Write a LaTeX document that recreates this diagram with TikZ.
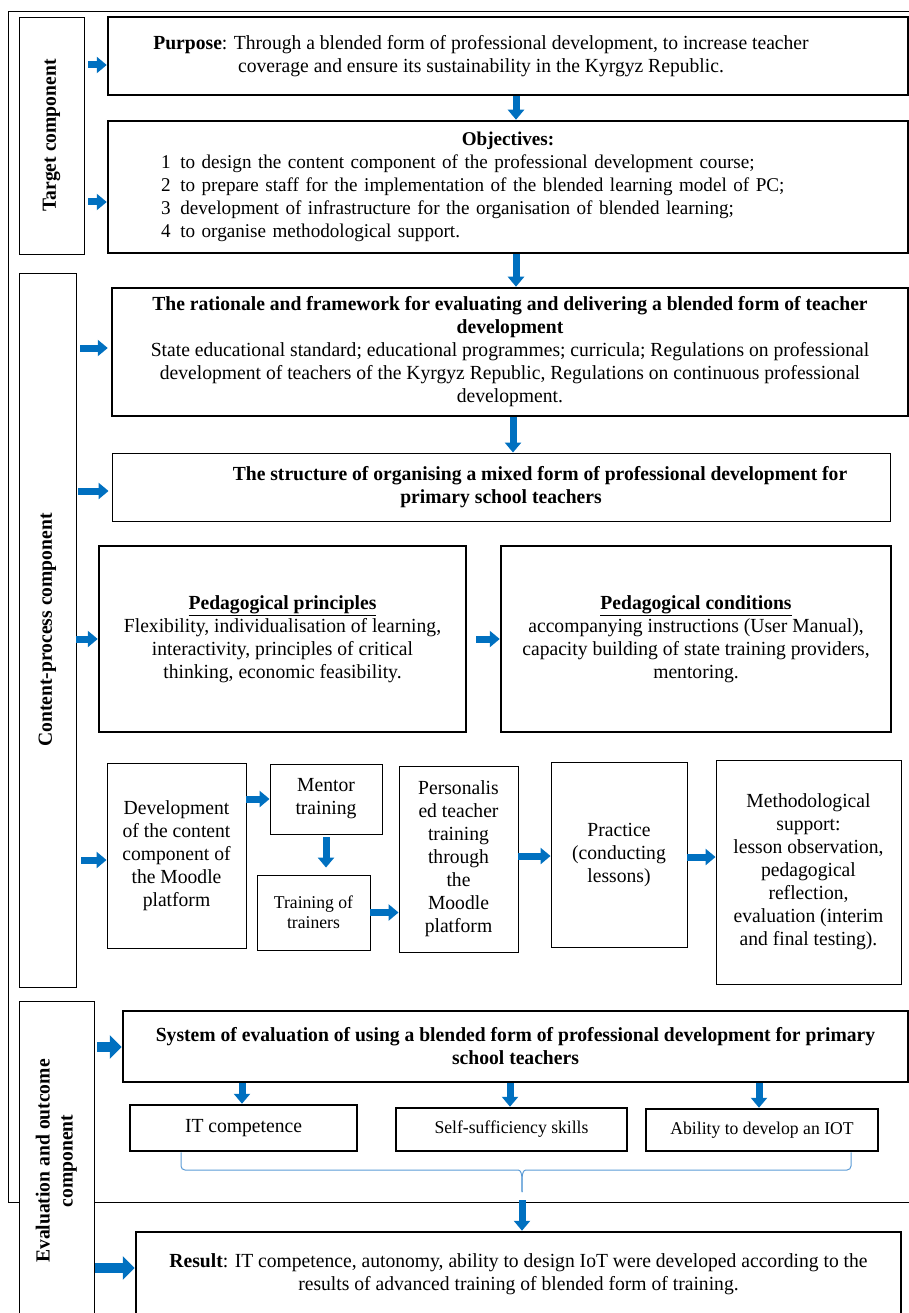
\documentclass[tikz,border=0pt]{standalone}
\usepackage{fontspec}
\setmainfont{Liberation Serif}[FakeStretch=0.98]
\usetikzlibrary{arrows.meta}
\definecolor{arrowblue}{RGB}{0,112,192}
\definecolor{braceblue}{RGB}{91,155,213}
\tikzset{
  bigbox/.style={draw, line width=2.5pt, align=center, inner sep=0pt},
  smallbox/.style={draw, line width=0.9pt, align=center, inner sep=0pt},
  sidebox/.style={draw, line width=0.9pt, fill=white, inner sep=0pt, font=\fontsize{20}{23}\selectfont\bfseries},
  barrow/.style={draw=arrowblue, line width=7pt, -{Triangle[width=16pt,length=10pt]}},
  bigarrow/.style={draw=arrowblue, line width=10pt, -{Triangle[width=23pt,length=12pt]}},
}
\begin{document}
\begin{tikzpicture}[x=1pt,y=-1pt,font=\fontsize{20}{23}\selectfont]
\useasboundingbox (0,0) rectangle (909,1313);
\clip (0,0) rectangle (909,1313);
\draw[line width=1pt] (930,12) -- (8,12) -- (8,1202) -- (930,1202);

\node[sidebox, minimum width=65, minimum height=237] (tgt) at (51.5,135.5) {\rotatebox{90}{Target component}};
\node[sidebox, minimum width=57, minimum height=714] (cnt) at (47.5,630) {\rotatebox{90}{Content-process component}};
\node[sidebox, minimum width=75, minimum height=320] (evl) at (56.5,1161) {\rotatebox{90}{\begin{tabular}{@{}c@{}}Evaluation and outcome\\component\end{tabular}}};

\node[bigbox, minimum width=800, minimum height=78] (purp) at (508,56)
  {\textbf{Purpose}: Through a blended form of professional development, to increase teacher\hspace*{54pt}\\
   coverage and ensure its sustainability in the Kyrgyz Republic.\hspace*{54pt}};
\node[bigbox, minimum width=800, minimum height=132, text width=694, align=left, font=\fontsize{19.5}{23}\selectfont] (obj) at (508,187)
  {{\centering\textbf{Objectives:}\par}
   1\enspace to design the content component of the professional development course;\\
   2\enspace to prepare staff for the implementation of the blended learning model of PC;\\
   3\enspace development of infrastructure for the organisation of blended learning;\\
   4\enspace to organise methodological support.};
\node[bigbox, minimum width=796, minimum height=128] (rat) at (510,352)
  {\textbf{The rationale and framework for evaluating and delivering a blended form of teacher}\\
   \textbf{development}\\
   State educational standard; educational programmes; curricula; Regulations on professional\\
   development of teachers of the Kyrgyz Republic, Regulations on continuous professional\\
   development.};
\node[smallbox, minimum width=778, minimum height=68] (str) at (501,487)
  {\hspace*{78pt}\textbf{The structure of organising a mixed form of professional development for}\\
   \textbf{primary school teachers}};
\node[bigbox, minimum width=367, minimum height=186] (pri) at (282.5,639)
  {\textbf{\underline{Pedagogical principles}}\\ Flexibility, individualisation of learning,\\
   interactivity, principles of critical\\ thinking, economic feasibility.};
\node[bigbox, minimum width=390, minimum height=186] (con) at (696,639)
  {\textbf{\underline{Pedagogical conditions}}\\ accompanying instructions (User Manual),\\
   capacity building of state training providers,\\ mentoring.};

\node[smallbox, minimum width=139, minimum height=185] (dev) at (176.5,855.5)
  {Development\\ of the content\\ component of\\ the Moodle\\ platform};
\node[smallbox, minimum width=112, minimum height=70] (men) at (326,799) {Mentor\\ training};
\node[smallbox, minimum width=113, minimum height=75, font=\fontsize{18}{20}\selectfont] (trn) at (313.5,912.5)
  {Training of\\ trainers};
\node[smallbox, minimum width=119, minimum height=186] (per) at (458.5,859)
  {Personalis\\ ed teacher\\ training\\ through\\ the\\ Moodle\\ platform};
\node[smallbox, minimum width=136, minimum height=185] (pra) at (619,854.5)
  {Practice\\ (conducting\\ lessons)};
\node[smallbox, minimum width=185, minimum height=224] (met) at (808.5,872)
  {Methodological\\ support:\\ lesson observation,\\ pedagogical\\ reflection,\\ evaluation (interim\\ and final testing).};

\node[bigbox, minimum width=785, minimum height=71] (sys) at (515.5,1046.5)
  {\textbf{System of evaluation of using a blended form of professional development for primary}\\
   \textbf{school teachers}};
\node[bigbox, minimum width=227, minimum height=46] (itc) at (243.5,1128) {IT competence};
\node[bigbox, minimum width=231, minimum height=43, font=\fontsize{18}{20}\selectfont] (slf) at (511.5,1129.5) {Self-sufficiency skills};
\node[bigbox, minimum width=232, minimum height=42, font=\fontsize{18}{20}\selectfont] (abl) at (762,1130) {Ability to develop an IOT};
\node[bigbox, minimum width=765, minimum height=85] (res) at (518.5,1274.5)
  {\textbf{Result}: IT competence, autonomy, ability to design IoT were developed according to the\\
   results of advanced training of blended form of training.};

\coordinate (bt) at (522,1192);
\draw[braceblue, line width=1pt, rounded corners=4pt] (itc.south -| 181,0) |- (514,1170) to[out=0,in=90] (bt);
\draw[braceblue, line width=1pt, rounded corners=4pt] (abl.south -| 851,0) |- (530,1170) to[out=180,in=90] (bt);

\draw[barrow] (tgt.east |- 0,65) ++(4,0) -- (purp.west |- 0,65);
\draw[barrow] (tgt.east |- 0,202) ++(4,0) -- (obj.west |- 0,202);
\draw[barrow] (cnt.east |- 0,348) ++(4,0) -- ([xshift=-3pt]rat.west |- 0,348);
\draw[barrow] (cnt.east |- 0,491) ++(2,0) -- ([xshift=-3pt]str.west |- 0,491);
\draw[barrow] (cnt.east |- pri.west) -- (pri.west);
\draw[barrow] (cnt.east |- 0,860) ++(5,0) -- (dev.west |- 0,860);
\draw[bigarrow] (evl.east |- 0,1047) ++(3,0) -- (sys.west |- 0,1047);
\draw[bigarrow] (evl.east |- 0,1268) ++(1,0) -- (res.west |- 0,1268);

\draw[barrow] (purp.south -| 516,0) -- (obj.north -| 516,0);
\draw[barrow] (obj.south -| 516,0) -- (rat.north -| 516,0);
\draw[barrow] (rat.south -| 513,0) -- (str.north -| 513,0);
\draw[barrow] ([xshift=9pt]pri.east) -- (con.west);
\draw[barrow] (dev.east |- men) -- (men.west);
\draw[barrow] ([yshift=-3pt]men.south) -- ([yshift=7pt]trn.north -| men.south);
\draw[barrow] (trn.east) -- (trn.east -| per.west);
\draw[barrow] (per.east |- 0,856) -- (pra.west |- 0,856);
\draw[barrow] (pra.east |- 0,857) -- (met.west |- 0,857);
\foreach \n/\x in {itc/242, slf/510, abl/759}
  \draw[barrow] (sys.south -| \x,0) -- (\n.north -| \x,0);
\draw[barrow] ([yshift=-8pt]bt) -- (bt |- res.north);
\end{tikzpicture}
\end{document}
